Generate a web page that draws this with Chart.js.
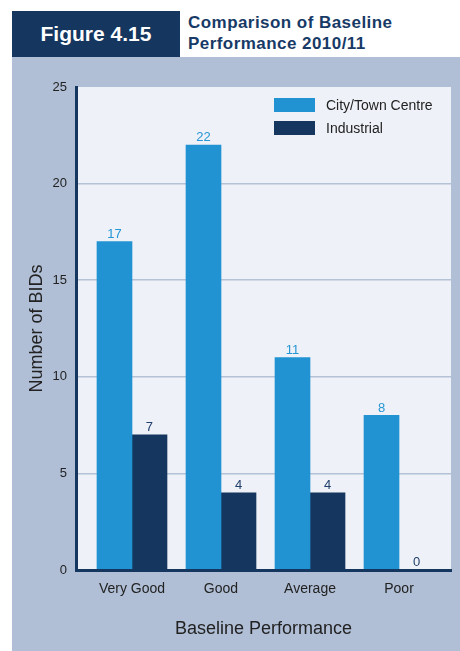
<!DOCTYPE html>
<html>
<head>
<meta charset="utf-8">
<script src="https://cdn.jsdelivr.net/npm/chart.js@4/dist/chart.umd.min.js"></script>
<style>
  body { margin: 0; background: #fff; font-family: "Liberation Sans", Arial, sans-serif; }
  #page { position: relative; width: 460px; height: 651px; overflow: hidden; }
  #figBox { position: absolute; left: 12px; top: 11px; width: 168px; height: 46px; background: #14365f;
    color: #fff; font-weight: bold; font-size: 21px; line-height: 46px; text-align: center; }
  #figTitle { position: absolute; left: 188px; top: 12px; color: #173a66; font-weight: bold;
    font-size: 17px; line-height: 21px; letter-spacing: 0.45px; }
  #panel { position: absolute; left: 12px; top: 57px; width: 448px; height: 594px; background: #b0bfd6; }
  #panel canvas { position: absolute; left: 0; top: 0; }
  #legend { position: absolute; left: 262px; top: 36px; font-size: 14px; color: #222; }
  #legend .item { display: flex; align-items: center; height: 23px; }
  #legend .sw { width: 41px; height: 14px; margin-right: 11px; }
</style>
</head>
<body>
<div id="page">
  <div id="figBox">Figure 4.15</div>
  <div id="figTitle">Comparison of Baseline<br>Performance 2010/11</div>
  <div id="panel">
    <canvas id="chart" width="448" height="594"></canvas>
    <div id="legend"></div>
  </div>
</div>
<script>
const categories = ['Very Good', 'Good', 'Average', 'Poor'];
const cityTown = [17, 22, 11, 8];
const industrial = [7, 4, 4, 0];
const seriesNames = ['City/Town Centre', 'Industrial'];
const yTicks = [0, 5, 10, 15, 20, 25];

const cityColor = '#2193d3';
const indColor = '#14365f';
const navy = '#14365f';

const datasets = [
  { label: seriesNames[0], data: cityTown.map((v, i) => ({ x: i, y: v })), backgroundColor: cityColor, labelColor: '#2596d6' },
  { label: seriesNames[1], data: industrial.map((v, i) => ({ x: i, y: v })), backgroundColor: indColor, labelColor: '#1f3f6b' }
];

// html legend inside the plot
document.getElementById('legend').innerHTML = datasets.map(d =>
  `<div class="item"><div class="sw" style="background:${d.backgroundColor}"></div>${d.label}</div>`).join('');

const plotBg = {
  id: 'plotBg',
  beforeDraw(chart) {
    const a = chart.chartArea, ctx = chart.ctx;
    ctx.save();
    ctx.fillStyle = '#eef1f7';
    ctx.fillRect(a.left, a.top, a.right - a.left, a.bottom - a.top);
    ctx.restore();
  }
};

const valueLabels = {
  id: 'valueLabels',
  afterDatasetsDraw(chart) {
    const ctx = chart.ctx;
    ctx.save();
    ctx.font = '13px "Liberation Sans", Arial, sans-serif';
    ctx.textAlign = 'center';
    ctx.textBaseline = 'bottom';
    chart.data.datasets.forEach((ds, di) => {
      ctx.fillStyle = ds.labelColor;
      chart.getDatasetMeta(di).data.forEach((bar, i) => {
        ctx.fillText(String(ds.data[i].y), bar.x, bar.y - 1);
      });
    });
    ctx.restore();
  }
};

new Chart(document.getElementById('chart'), {
  type: 'bar',
  data: { datasets },
  options: {
    responsive: false,
    animation: false,
    layout: { padding: { top: 30, right: 9, left: 0, bottom: 0 } },
    barThickness: 35,
    borderWidth: 0,
    plugins: { legend: { display: false }, tooltip: { enabled: false } },
    scales: {
      x: {
        type: 'linear',
        offset: false,
        min: -0.629,
        max: 3.584,
        afterBuildTicks: (s) => { s.ticks = categories.map((c, i) => ({ value: i })); },
        afterFit: (s) => { s.height = 81; },
        grid: { display: false, offset: false },
        border: { display: true, color: navy, width: 3, z: 1 },
        ticks: {
          callback: (v) => categories[v],
          color: '#222',
          font: { size: 14, family: '"Liberation Sans", Arial, sans-serif' },
          padding: 3,
          maxRotation: 0,
          autoSkip: false
        },
        title: {
          display: true,
          text: 'Baseline Performance',
          color: '#222',
          font: { size: 18, family: '"Liberation Sans", Arial, sans-serif' },
          padding: { top: 0, bottom: 11 }
        }
      },
      y: {
        min: 0,
        max: 25,
        afterBuildTicks: (s) => { s.ticks = yTicks.map(v => ({ value: v })); },
        afterFit: (s) => { s.width = 64; },
        grid: {
          color: (c) => (c.tick && c.tick.value === 25) ? 'rgba(0,0,0,0)' : '#b4c2d7',
          lineWidth: 1.5,
          drawTicks: false
        },
        border: { display: true, color: navy, width: 3, z: 1 },
        ticks: {
          color: '#222',
          font: { size: 13, family: '"Liberation Sans", Arial, sans-serif' },
          padding: 9
        },
        title: {
          display: true,
          text: 'Number of BIDs',
          color: '#222',
          font: { size: 18, family: '"Liberation Sans", Arial, sans-serif' },
          padding: { top: 14, bottom: 0 }
        }
      }
    }
  },
  plugins: [plotBg, valueLabels]
});
</script>
</body>
</html>
